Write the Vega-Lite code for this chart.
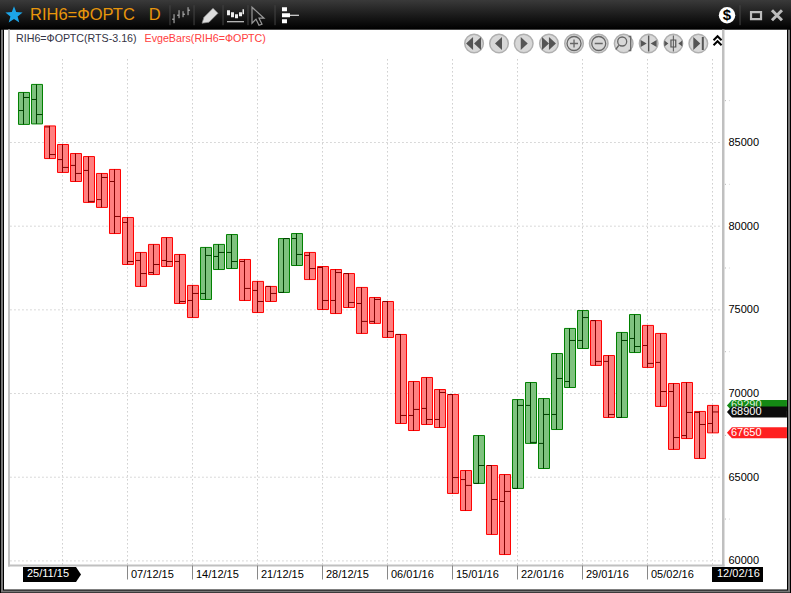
{
  "$schema": "https://vega.github.io/schema/vega-lite/v6.json",
  "width": 791,
  "height": 593,
  "autosize": "none",
  "padding": 0,
  "background": "#000000",
  "datasets": {
    "bars": [
      {"n":0,"date":"25/11/15","dir":"up","open":86910,"high":87990,"low":86080,"close":87690},
      {"n":1,"date":"26/11/15","dir":"up","open":87570,"high":88470,"low":86110,"close":86670},
      {"n":2,"date":"27/11/15","dir":"down","open":85930,"high":85990,"low":84040,"close":84280},
      {"n":3,"date":"30/11/15","dir":"down","open":83980,"high":84880,"low":83210,"close":83510},
      {"n":4,"date":"01/12/15","dir":"down","open":83630,"high":84340,"low":82670,"close":83150},
      {"n":5,"date":"02/12/15","dir":"down","open":83330,"high":84160,"low":81420,"close":81480},
      {"n":6,"date":"03/12/15","dir":"down","open":81590,"high":83150,"low":81120,"close":82910},
      {"n":7,"date":"04/12/15","dir":"down","open":82670,"high":83390,"low":79560,"close":80580},
      {"n":8,"date":"07/12/15","dir":"down","open":80220,"high":80520,"low":77710,"close":77890},
      {"n":9,"date":"08/12/15","dir":"down","open":77950,"high":78430,"low":76400,"close":77170},
      {"n":10,"date":"09/12/15","dir":"down","open":77230,"high":78910,"low":77110,"close":77710},
      {"n":11,"date":"10/12/15","dir":"down","open":77950,"high":79320,"low":77590,"close":77890},
      {"n":12,"date":"11/12/15","dir":"down","open":77890,"high":78310,"low":75380,"close":75500},
      {"n":13,"date":"14/12/15","dir":"down","open":75560,"high":76460,"low":74540,"close":75980},
      {"n":14,"date":"15/12/15","dir":"up","open":75980,"high":78730,"low":75620,"close":78250},
      {"n":15,"date":"16/12/15","dir":"up","open":78190,"high":78910,"low":77410,"close":78430},
      {"n":16,"date":"17/12/15","dir":"up","open":78430,"high":79500,"low":77470,"close":77890},
      {"n":17,"date":"18/12/15","dir":"down","open":77890,"high":78010,"low":75560,"close":76280},
      {"n":18,"date":"21/12/15","dir":"down","open":76160,"high":76700,"low":74840,"close":75500},
      {"n":19,"date":"22/12/15","dir":"down","open":76400,"high":76400,"low":75500,"close":75980},
      {"n":20,"date":"23/12/15","dir":"up","open":76040,"high":79260,"low":76040,"close":79260},
      {"n":21,"date":"24/12/15","dir":"up","open":79260,"high":79560,"low":77650,"close":78310},
      {"n":22,"date":"25/12/15","dir":"down","open":78250,"high":78430,"low":76810,"close":77470},
      {"n":23,"date":"28/12/15","dir":"down","open":77530,"high":77590,"low":75020,"close":75560},
      {"n":24,"date":"29/12/15","dir":"down","open":75560,"high":77410,"low":74780,"close":77230},
      {"n":25,"date":"30/12/15","dir":"down","open":77170,"high":77170,"low":75140,"close":75440},
      {"n":26,"date":"04/01/16","dir":"down","open":75380,"high":76340,"low":73590,"close":74310},
      {"n":27,"date":"05/01/16","dir":"down","open":74310,"high":75740,"low":74190,"close":75620},
      {"n":28,"date":"06/01/16","dir":"down","open":75500,"high":75500,"low":73350,"close":73710},
      {"n":29,"date":"11/01/16","dir":"down","open":73530,"high":73530,"low":68210,"close":68690},
      {"n":30,"date":"12/01/16","dir":"down","open":68690,"high":70720,"low":67790,"close":69050},
      {"n":31,"date":"13/01/16","dir":"down","open":69110,"high":70960,"low":68150,"close":68450},
      {"n":32,"date":"14/01/16","dir":"down","open":68450,"high":70240,"low":67970,"close":70060},
      {"n":33,"date":"15/01/16","dir":"down","open":69940,"high":69940,"low":64030,"close":64980},
      {"n":34,"date":"18/01/16","dir":"down","open":64860,"high":65400,"low":63010,"close":64510},
      {"n":35,"date":"19/01/16","dir":"up","open":64630,"high":67490,"low":64630,"close":65700},
      {"n":36,"date":"20/01/16","dir":"down","open":65700,"high":65700,"low":61580,"close":63670},
      {"n":37,"date":"21/01/16","dir":"down","open":63550,"high":65160,"low":60380,"close":64150},
      {"n":38,"date":"22/01/16","dir":"up","open":64330,"high":69640,"low":64330,"close":69290},
      {"n":39,"date":"25/01/16","dir":"up","open":69290,"high":70660,"low":67020,"close":67080},
      {"n":40,"date":"26/01/16","dir":"up","open":67020,"high":69700,"low":65520,"close":68750},
      {"n":41,"date":"27/01/16","dir":"up","open":68750,"high":72390,"low":67850,"close":70900},
      {"n":42,"date":"28/01/16","dir":"up","open":70720,"high":73890,"low":70360,"close":73170},
      {"n":43,"date":"29/01/16","dir":"up","open":73170,"high":74960,"low":72690,"close":74540},
      {"n":44,"date":"01/02/16","dir":"down","open":74360,"high":74360,"low":71680,"close":71920},
      {"n":45,"date":"02/02/16","dir":"down","open":71920,"high":72270,"low":68570,"close":68750},
      {"n":46,"date":"03/02/16","dir":"up","open":68570,"high":73650,"low":68570,"close":73170},
      {"n":47,"date":"04/02/16","dir":"up","open":73290,"high":74720,"low":72450,"close":72810},
      {"n":48,"date":"05/02/16","dir":"down","open":72870,"high":74070,"low":71560,"close":71800},
      {"n":49,"date":"08/02/16","dir":"down","open":71860,"high":73590,"low":69230,"close":70120},
      {"n":50,"date":"09/02/16","dir":"down","open":70120,"high":70600,"low":66660,"close":67370},
      {"n":51,"date":"10/02/16","dir":"down","open":67490,"high":70660,"low":67310,"close":68870},
      {"n":52,"date":"11/02/16","dir":"down","open":68870,"high":68930,"low":66120,"close":68150},
      {"n":53,"date":"12/02/16","dir":"down","open":68210,"high":69290,"low":67650,"close":68900}
    ],
    "vgrid": [{"n":3},{"n":8},{"n":13},{"n":18},{"n":23},{"n":28},{"n":33},{"n":38},{"n":43},{"n":48},{"n":53}],
    "hgrid": [{"price":60000},{"price":65000},{"price":70000},{"price":75000},{"price":80000},{"price":85000}],
    "minor": [{"price":62500},{"price":67500},{"price":72500},{"price":77500},{"price":82500},{"price":87500}],
    "buttons": [
      {"n":34.62,"glyph":"rewind"},{"n":36.54,"glyph":"back"},{"n":38.44,"glyph":"play"},{"n":40.38,"glyph":"forward"},
      {"n":42.31,"glyph":"plus"},{"n":44.21,"glyph":"minus"},{"n":46.13,"glyph":"fit"},{"n":48.05,"glyph":"squeeze"},
      {"n":49.95,"glyph":"spread"},{"n":51.87,"glyph":"end"}
    ],
    "seps": [{"n":11.23},{"n":13.08},{"n":15.31},{"n":17.23},{"n":19.31},{"n":55.08}]
  },
  "layer": [
    {"data":{"values":[{}]},"mark":{"type":"rect","fill":"#777777"},
     "encoding":{
       "x":{"datum":-1.769,"type":"quantitative","scale":{"domain":[-1.84615,59],"range":[0,791],"nice":false,"zero":false,"padding":0}},
       "x2":{"datum":58.923},
       "y":{"datum":58119,"type":"quantitative","scale":{"domain":[58070,93502],"range":[593.2,0.2],"nice":false,"zero":false,"padding":0}},
       "y2":{"datum":91758}}},
    {"data":{"values":[{}]},"mark":{"type":"rect","fill":"#000000"},
     "encoding":{"x":{"datum":-1.615,"type":"quantitative"},"x2":{"datum":58.769},"y":{"datum":58238,"type":"quantitative"},"y2":{"datum":91758}}},
    {"data":{"values":[{}]},"mark":{"type":"rect","fill":"#ffffff"},
     "encoding":{"x":{"datum":-1.538,"type":"quantitative"},"x2":{"datum":58.692},"y":{"datum":58298,"type":"quantitative"},"y2":{"datum":91758}}},
    {"data":{"values":[{}]},
     "mark":{"type":"rect","fill":{"gradient":"linear","x1":0,"y1":0,"x2":0,"y2":1,"stops":[{"offset":0,"color":"#3a3a3a"},{"offset":0.5,"color":"#1c1c1c"},{"offset":1,"color":"#000000"}]}},
     "encoding":{"x":{"datum":-1.84615,"type":"quantitative"},"x2":{"datum":59},"y":{"datum":91758,"type":"quantitative"},"y2":{"datum":93520}}},
    {"data":{"values":[{}]},"mark":{"type":"rect","fill":"#c0c0c0"},
     "encoding":{"x":{"datum":-1.231,"type":"quantitative"},"x2":{"datum":-1.077},"y":{"datum":59672,"type":"quantitative"},"y2":{"datum":91758}}},
    {"data":{"values":[{}]},"mark":{"type":"rect","fill":"#c0c0c0"},
     "encoding":{"x":{"datum":53.692,"type":"quantitative"},"x2":{"datum":53.885},"y":{"datum":59672,"type":"quantitative"},"y2":{"datum":91758}}},
    {"data":{"values":[{}]},"mark":{"type":"rect","fill":"#c0c0c0"},
     "encoding":{"x":{"datum":-1.231,"type":"quantitative"},"x2":{"datum":53.885},"y":{"datum":59672,"type":"quantitative"},"y2":{"datum":59792}}},
    {"data":{"name":"hgrid"},"mark":{"type":"rule","stroke":"#b4b4b4","strokeWidth":1,"strokeDash":[1,3]},
     "encoding":{
       "x":{"datum":-1.04,"type":"quantitative"},
       "x2":{"datum":53.69},
       "y":{"field":"price","type":"quantitative","axis":{
         "orient":"right","offset":-64,"values":[60000,65000,70000,75000,80000,85000],"format":"d","title":null,"domain":false,"ticks":false,"grid":false,
         "labelPadding":1,"labelAlign":"left","labelBaseline":"middle","labelFont":"Liberation Sans","labelFontSize":11,"labelColor":"#000000","labelOverlap":false,"labelFlush":false,"zindex":1}}}},
    {"data":{"name":"vgrid"},"mark":{"type":"rule","stroke":"#b4b4b4","strokeWidth":1,"strokeDash":[1,3],"xOffset":-0.5},
     "encoding":{
       "x":{"field":"n","type":"quantitative","axis":{
         "orient":"bottom","offset":-28,"values":[8,13,18,23,28,33,38,43,48],
         "labelExpr":"['07/12/15','14/12/15','21/12/15','28/12/15','06/01/16','15/01/16','22/01/16','29/01/16','05/02/16'][(datum.value-8)/5]",
         "title":null,"domain":false,"grid":false,"tickSize":14,"tickColor":"#888888","tickOffset":-0.5,
         "labelAlign":"left","labelBaseline":"middle","labelPadding":-5,"labelOffset":3,"labelFont":"Liberation Sans","labelFontSize":11,"labelColor":"#000000","labelOverlap":false,"labelFlush":false,"zindex":1}},
       "y":{"datum":59792,"type":"quantitative"},
       "y2":{"datum":90037}}},
    {"data":{"name":"minor"},"mark":{"type":"rule","stroke":"#b4b4b4","strokeWidth":1,"strokeDash":[1,3]},
     "encoding":{"x":{"datum":53.92,"type":"quantitative"},"x2":{"datum":54.27},"y":{"field":"price","type":"quantitative"}}},
    {"data":{"name":"bars"},"mark":{"type":"bar","width":11,"strokeWidth":1},
     "encoding":{
       "x":{"field":"n","type":"quantitative"},
       "y":{"field":"low","type":"quantitative"},
       "y2":{"field":"high"},
       "fill":{"field":"dir","type":"nominal","scale":{"domain":["up","down"],"range":["#7fc27f","#ff8080"]},"legend":null},
       "stroke":{"field":"dir","type":"nominal","scale":{"domain":["up","down"],"range":["#008000","#ff0000"]},"legend":null}}},
    {"data":{"name":"bars"},"mark":{"type":"rule","strokeWidth":1,"xOffset":-0.5},
     "encoding":{
       "x":{"field":"n","type":"quantitative"},
       "y":{"field":"low","type":"quantitative"},
       "y2":{"field":"high"},
       "color":{"field":"dir","type":"nominal","scale":{"domain":["up","down"],"range":["#004000","#800000"]},"legend":null}}},
    {"data":{"name":"bars"},"mark":{"type":"point","shape":"M-5,0H0","size":4,"filled":false,"opacity":1,"strokeWidth":1},
     "encoding":{
       "x":{"field":"n","type":"quantitative"},
       "y":{"field":"open","type":"quantitative"},
       "color":{"field":"dir","type":"nominal","legend":null}}},
    {"data":{"name":"bars"},"mark":{"type":"point","shape":"M0,0H5.5","size":4,"filled":false,"opacity":1,"strokeWidth":1},
     "encoding":{
       "x":{"field":"n","type":"quantitative"},
       "y":{"field":"close","type":"quantitative"},
       "color":{"field":"dir","type":"nominal","legend":null}}},
    {"data":{"values":[{"label":"RIH6=ФОРТС(RTS-3.16)"}]},"mark":{"type":"text","align":"left","baseline":"middle","font":"Liberation Sans","fontSize":10.7,"fill":"#333344"},
     "encoding":{"text":{"field":"label"},"x":{"datum":-0.615,"type":"quantitative"},"y":{"datum":91172,"type":"quantitative"}}},
    {"data":{"values":[{"label":"EvgeBars(RIH6=ФОРТС)"}]},"mark":{"type":"text","align":"left","baseline":"middle","font":"Liberation Sans","fontSize":10.7,"fill":"#ff4040"},
     "encoding":{"text":{"field":"label"},"x":{"datum":9.27,"type":"quantitative"},"y":{"datum":91172,"type":"quantitative"}}},
    {"data":{"values":[{"label":"RIH6=ФОРТС"}]},"mark":{"type":"text","align":"left","baseline":"middle","font":"Liberation Sans","fontSize":16.5,"fill":"#e8960c"},
     "encoding":{"text":{"field":"label"},"x":{"datum":0.46,"type":"quantitative"},"y":{"datum":92606,"type":"quantitative"}}},
    {"data":{"values":[{"label":"D"}]},"mark":{"type":"text","align":"left","baseline":"middle","font":"Liberation Sans","fontSize":16.5,"fill":"#e8960c"},
     "encoding":{"text":{"field":"label"},"x":{"datum":9.6,"type":"quantitative"},"y":{"datum":92606,"type":"quantitative"}}},
    {"data":{"values":[{"tag":"start"}]},"mark":{"type":"point","shape":"M-1,-7.5H52L57,0L52,7.5H-1Z","size":4,"filled":true,"opacity":1,"fill":"#000000"},
     "encoding":{"x":{"datum":0,"type":"quantitative"},"y":{"datum":59188,"type":"quantitative"}}},
    {"data":{"values":[{"tag":"end"}]},"mark":{"type":"point","shape":"M-1,-7.5H50V7.5H-1Z","size":4,"filled":true,"opacity":1,"fill":"#000000"},
     "encoding":{"x":{"datum":53,"type":"quantitative"},"y":{"datum":59188,"type":"quantitative"}}},
    {"data":{"values":[{"label":"25/11/15"}]},"mark":{"type":"text","align":"left","baseline":"middle","dx":3,"font":"Liberation Sans","fontSize":11,"fill":"#ffffff"},
     "encoding":{"text":{"field":"label"},"x":{"datum":0,"type":"quantitative"},"y":{"datum":59188,"type":"quantitative"}}},
    {"data":{"values":[{"label":"12/02/16"}]},"mark":{"type":"text","align":"left","baseline":"middle","dx":4,"font":"Liberation Sans","fontSize":11,"fill":"#ffffff"},
     "encoding":{"text":{"field":"label"},"x":{"datum":53,"type":"quantitative"},"y":{"datum":59188,"type":"quantitative"}}},
    {"data":{"values":[{"price":69290}]},"mark":{"type":"point","shape":"M-30,0L-25,-5.5H30V5.5H-25Z","size":4,"filled":true,"opacity":1,"fill":"#148a14"},
     "encoding":{"x":{"datum":56.38,"type":"quantitative"},"y":{"field":"price","type":"quantitative"}}},
    {"data":{"values":[{"price":69290}]},"mark":{"type":"text","align":"left","baseline":"middle","font":"Liberation Sans","fontSize":11,"fill":"#dff0df"},
     "encoding":{"text":{"field":"price","format":"d"},"x":{"datum":54.38,"type":"quantitative"},"y":{"field":"price","type":"quantitative"}}},
    {"data":{"values":[{"price":68900}]},"mark":{"type":"point","shape":"M-30,0L-25,-5.5H30V5.5H-25Z","size":4,"filled":true,"opacity":1,"fill":"#0c0c0c"},
     "encoding":{"x":{"datum":56.38,"type":"quantitative"},"y":{"field":"price","type":"quantitative"}}},
    {"data":{"values":[{"price":68900}]},"mark":{"type":"text","align":"left","baseline":"middle","font":"Liberation Sans","fontSize":11,"fill":"#ffffff"},
     "encoding":{"text":{"field":"price","format":"d"},"x":{"datum":54.38,"type":"quantitative"},"y":{"field":"price","type":"quantitative"}}},
    {"data":{"values":[{"price":67650}]},"mark":{"type":"point","shape":"M-30,0L-25,-5.5H30V5.5H-25Z","size":4,"filled":true,"opacity":1,"fill":"#ff2020"},
     "encoding":{"x":{"datum":56.38,"type":"quantitative"},"y":{"field":"price","type":"quantitative"}}},
    {"data":{"values":[{"price":67650}]},"mark":{"type":"text","align":"left","baseline":"middle","font":"Liberation Sans","fontSize":11,"fill":"#ffffff"},
     "encoding":{"text":{"field":"price","format":"d"},"x":{"datum":54.38,"type":"quantitative"},"y":{"field":"price","type":"quantitative"}}},
    {"data":{"name":"buttons"},"mark":{"type":"circle","size":346,"fill":"#d8d8d8","stroke":"#b0b0b0","strokeWidth":1.5,"opacity":1},
     "encoding":{"x":{"field":"n","type":"quantitative"},"y":{"datum":90915,"type":"quantitative"}}},
    {"resolve":{"scale":{"shape":"independent"}},
     "layer":[
       {"data":{"name":"buttons"},"transform":[{"filter":"indexof(['rewind','back','play','forward','squeeze','spread','end'],datum.glyph)>=0"}],
        "mark":{"type":"point","size":4,"filled":true,"opacity":1,"fill":"#555555"},
        "encoding":{"x":{"field":"n","type":"quantitative"},"y":{"datum":90915,"type":"quantitative"},
          "shape":{"field":"glyph","type":"nominal","legend":null,"scale":{
            "domain":["rewind","back","play","forward","squeeze","spread","end"],
            "range":["M-1,-6.5L-8,0L-1,6.5ZM7,-6.5L0,0L7,6.5Z","M3,-6.5L-4,0L3,6.5Z","M-3,-6.5L4,0L-3,6.5Z","M-7,-6.5L0,0L-7,6.5ZM0,-6.5L7,0L0,6.5Z",
              "M-8,-3.5L-2,0L-8,3.5ZM8,-3.5L2,0L8,3.5ZM-0.7,-8H0.7V8H-0.7Z","M-9,-3L-5,0L-9,3ZM9,-3L5,0L9,3ZM-3,-4H-1.8V4H-3ZM1.8,-4H3V4H1.8ZM-3,-4H3V-3H-3ZM-3,3H3V4H-3ZM-0.5,-8H0.5V8H-0.5Z","M-5,-6.5L2,0L-5,6.5ZM3.5,-6.5H5.5V6.5H3.5Z"]}}}}
     ]},
    {"resolve":{"scale":{"shape":"independent"}},
     "layer":[
       {"data":{"name":"buttons"},"transform":[{"filter":"indexof(['plus','minus','fit'],datum.glyph)>=0"}],
        "mark":{"type":"point","size":4,"filled":false,"opacity":1,"stroke":"#666666","strokeWidth":1.3},
        "encoding":{"x":{"field":"n","type":"quantitative"},"y":{"datum":90915,"type":"quantitative"},
          "shape":{"field":"glyph","type":"nominal","legend":null,"scale":{
            "domain":["plus","minus","fit"],
            "range":["M-7,0A7,7 0 1 1 7,0A7,7 0 1 1 -7,0ZM-4,0H4M0,-4V4","M-7,0A7,7 0 1 1 7,0A7,7 0 1 1 -7,0ZM-4,0H4","M-6,-2A4.5,4.5 0 1 1 3,-2A4.5,4.5 0 1 1 -6,-2ZM-5,2L-8,6M5,-7H7V7H5"]}}}}
     ]},
    {"data":{"values":[{}]},"mark":{"type":"point","shape":"M-4,-1L0,-5L4,-1M-4,4L0,0L4,4","size":4,"filled":false,"opacity":1,"stroke":"#000000","strokeWidth":2},
     "encoding":{"x":{"datum":53.35,"type":"quantitative"},"y":{"datum":91053,"type":"quantitative"}}},
    {"data":{"name":"seps"},"mark":{"type":"point","shape":"M0,-10V10","size":4,"filled":false,"opacity":1,"stroke":"#444444","strokeWidth":1},
     "encoding":{"x":{"field":"n","type":"quantitative"},"y":{"datum":92606,"type":"quantitative"}}},
    {"data":{"values":[{}]},"mark":{"type":"point","shape":"M0,-9L2.2,-3.1L8.6,-2.8L3.6,1.2L5.3,7.3L0,3.8L-5.3,7.3L-3.6,1.2L-8.6,-2.8L-2.2,-3.1Z","size":4,"filled":true,"opacity":1,"fill":"#1ca5e8"},
     "encoding":{"x":{"datum":-0.769,"type":"quantitative"},"y":{"datum":92606,"type":"quantitative"}}},
    {"data":{"values":[{}]},"mark":{"type":"point","shape":"M-7,8V-1M-9,4H-7M-2,3V-5M-4,0H-2M2,2V-4M2,-1H4M7,0V-8M7,-5H9","size":4,"filled":false,"opacity":1,"stroke":"#bbbbbb","strokeWidth":1},
     "encoding":{"x":{"datum":12.08,"type":"quantitative"},"y":{"datum":92606,"type":"quantitative"}}},
    {"data":{"values":[{}]},"mark":{"type":"point","shape":"M-8,8L-6,2L3,-7L8,-2L-1,7Z","size":4,"filled":true,"opacity":1,"fill":"#dddddd","stroke":"#888888","strokeWidth":0.7},
     "encoding":{"x":{"datum":14.31,"type":"quantitative"},"y":{"datum":92606,"type":"quantitative"}}},
    {"data":{"values":[{}]},"mark":{"type":"point","shape":"M-8,-5H-5V0H-8ZM-4,-3H-1V2H-4ZM0,-1H3V3H0ZM4,-3H7V1H4ZM7.5,-6H9V-1H7.5ZM-8,6H9V7H-8Z","size":4,"filled":true,"opacity":1,"fill":"#eeeeee"},
     "encoding":{"x":{"datum":16.23,"type":"quantitative"},"y":{"datum":92606,"type":"quantitative"}}},
    {"data":{"values":[{}]},"mark":{"type":"point","shape":"M-6,-9L-6,7L-2,3L1,9L4,8L1,2L6,2Z","size":4,"filled":false,"opacity":1,"stroke":"#999999","strokeWidth":1.2},
     "encoding":{"x":{"datum":18,"type":"quantitative"},"y":{"datum":92546,"type":"quantitative"}}},
    {"data":{"values":[{}]},"mark":{"type":"point","shape":"M-8,-9H-3V-5H-8ZM-8,-3H0V1H-8ZM-8,3H-3V7H-8ZM0,-1.5H9V-0.5H0Z","size":4,"filled":true,"opacity":1,"fill":"#ffffff"},
     "encoding":{"x":{"datum":20.46,"type":"quantitative"},"y":{"datum":92546,"type":"quantitative"}}},
    {"data":{"values":[{}]},"mark":{"type":"circle","size":270,"opacity":1,"fill":"#ffffff"},
     "encoding":{"x":{"datum":54.08,"type":"quantitative"},"y":{"datum":92606,"type":"quantitative"}}},
    {"data":{"values":[{"label":"$"}]},"mark":{"type":"text","align":"center","baseline":"middle","font":"Liberation Sans","fontWeight":"bold","fontSize":15,"fill":"#000000"},
     "encoding":{"text":{"field":"label"},"x":{"datum":54.08,"type":"quantitative"},"y":{"datum":92606,"type":"quantitative"}}},
    {"data":{"values":[{}]},"mark":{"type":"point","shape":"M-5,-3H5V4H-5Z","size":4,"filled":false,"opacity":1,"stroke":"#bbbbbb","strokeWidth":2.2},
     "encoding":{"x":{"datum":56.31,"type":"quantitative"},"y":{"datum":92606,"type":"quantitative"}}},
    {"data":{"values":[{}]},"mark":{"type":"point","shape":"M-5,-5L5,5M5,-5L-5,5","size":4,"filled":false,"opacity":1,"stroke":"#bbbbbb","strokeWidth":3},
     "encoding":{"x":{"datum":57.92,"type":"quantitative"},"y":{"datum":92606,"type":"quantitative"}}}
  ],
  "config": {"view": {"stroke": null}, "font": "Liberation Sans"}
}
